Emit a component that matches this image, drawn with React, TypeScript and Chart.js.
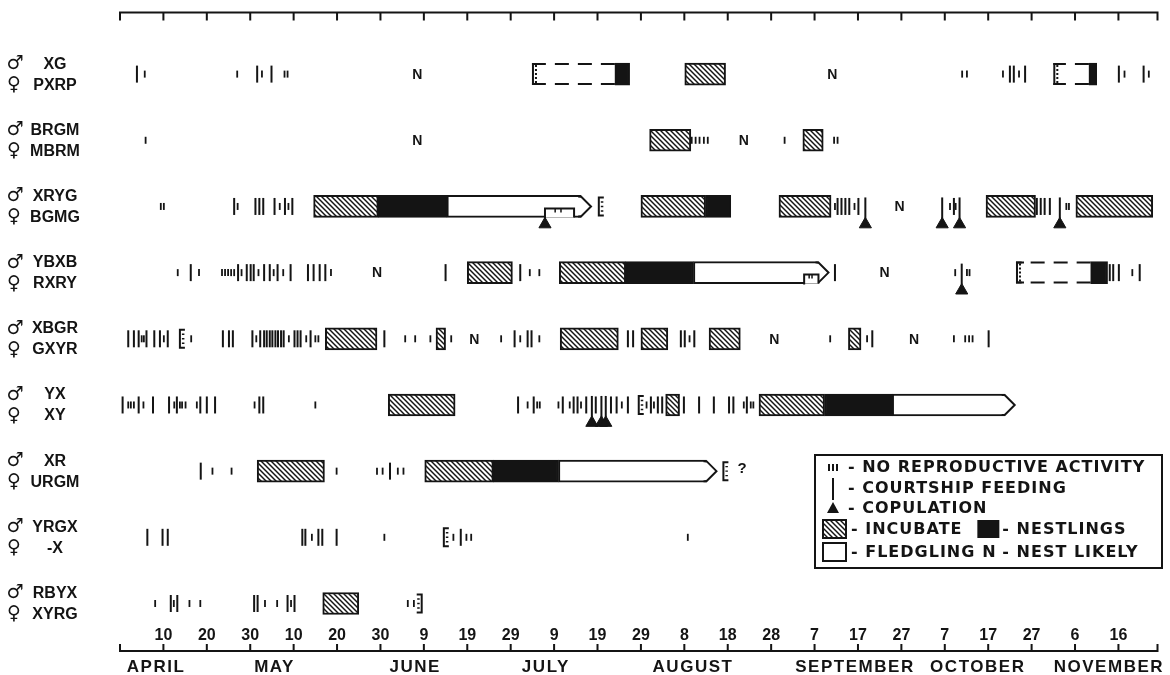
import React, { useEffect, useRef } from "react";
import { Chart, registerables } from "chart.js";

Chart.register(...registerables);

// ---- data (x = days counted from 31 March, so 10 = April 10) ----
const maleBands = ["XG", "BRGM", "XRYG", "YBXB", "XBGR", "YX", "XR", "YRGX", "RBYX"];
const femaleBands = ["PXRP", "MBRM", "BGMG", "RXRY", "GXYR", "XY", "URGM", "-X", "XYRG"];

const dayTicks = [10, 20, 30, 40, 50, 60, 70, 80, 90, 100, 110, 120, 130, 140, 150, 160, 170, 180, 190, 200, 210, 220, 230];
const dayTickLabels = ["10", "20", "30", "10", "20", "30", "9", "19", "29", "9", "19", "29", "8", "18", "28", "7", "17", "27", "7", "17", "27", "6", "16"];
const monthNames = ["APRIL", "MAY", "JUNE", "JULY", "AUGUST", "SEPTEMBER", "OCTOBER", "NOVEMBER"];
const monthCenters = [8.3, 35.6, 68.0, 98.1, 132.0, 169.3, 197.6, 227.8];

// [row, startDay, endDay]
const incubate: number[][] = [
  [0, 130.1, 139.5],
  [1, 122.0, 131.5], [1, 157.3, 162.0],
  [2, 44.6, 59.5], [2, 120.0, 134.9], [2, 151.8, 163.8], [2, 199.5, 210.9], [2, 220.2, 237.9],
  [3, 80.0, 90.4], [3, 101.2, 116.5],
  [4, 47.3, 59.2], [4, 72.8, 75.0], [4, 101.4, 114.8], [4, 120.0, 126.2], [4, 135.7, 142.9], [4, 167.8, 170.7],
  [5, 61.8, 77.2], [5, 125.7, 128.9], [5, 147.2, 162.3],
  [6, 31.6, 47.1], [6, 70.2, 86.0],
  [8, 46.7, 55.0],
];
const nestlings: number[][] = [
  [0, 114.0, 117.4], [0, 223.2, 225.0], [2, 59.5, 75.3], [2, 134.9, 140.7],
  [3, 116.5, 132.1], [3, 223.6, 227.5], [5, 162.3, 177.9], [6, 86.0, 101.0],
];
const fledgling: number[][] = [
  [2, 75.3, 106.2], [3, 132.1, 160.9], [5, 177.9, 203.8], [6, 101.0, 135.1],
];
const nestAttempt: number[][] = [
  [0, 94.9, 114.0], [0, 215.0, 223.2], [3, 206.4, 223.6],
];
const notches: number[][] = [
  [2, 97.9, 104.6], [3, 157.6, 160.9],
];

// per row: days
const courtshipDays: number[][] = [
  [3.9, 31.6, 34.9, 205.0, 205.9, 208.5, 230.1, 235.8],
  [],
  [26.3, 31.2, 32.1, 33.0, 35.6, 38.0, 39.7, 165.3, 166.2, 167.1, 168.0, 170.1, 192.1, 211.2, 212.1, 213.0, 214.2],
  [16.3, 27.2, 29.2, 30.1, 30.8, 33.2, 34.5, 36.3, 39.3, 43.3, 44.6, 46.0, 47.3, 75.0, 92.2, 164.7, 228.0, 228.8, 230.1, 234.9],
  [1.9, 3.2, 4.3, 6.1, 7.9, 9.2, 11.0, 23.7, 25.1, 26.0, 30.5, 32.3, 33.2, 33.8, 34.5, 35.1, 35.8, 36.4, 37.1, 37.7, 40.2, 40.9, 41.6, 43.9, 60.9, 90.9, 93.9, 94.8, 117.0, 118.2, 129.2, 130.1, 132.3, 173.3, 200.1],
  [0.6, 4.3, 7.6, 11.3, 13.1, 18.5, 20.0, 21.9, 32.1, 33.0, 91.7, 95.3, 102.0, 104.5, 105.4, 107.4, 109.6, 113.1, 114.4, 117.0, 122.3, 123.9, 124.9, 129.9, 133.4, 136.8, 140.3, 141.3, 144.4],
  [18.6, 62.2],
  [6.3, 9.8, 11.0, 42.0, 42.7, 45.7, 46.6, 49.9, 78.5],
  [11.7, 13.2, 30.9, 31.7, 38.6, 40.2],
];
const noReproDays: number[][] = [
  [5.7, 27.0, 32.7, 37.9, 38.6, 194.0, 195.1, 203.4, 207.1, 231.4, 237.0],
  [5.9, 131.7, 132.6, 133.5, 134.5, 135.4, 153.1, 164.5, 165.3],
  [9.4, 10.1, 27.1, 36.8, 38.8, 164.7, 169.2, 191.2, 192.5, 218.0, 218.6],
  [13.3, 18.2, 23.5, 24.2, 24.9, 25.6, 26.3, 28.0, 31.9, 35.4, 37.6, 48.6, 94.4, 96.6, 192.4, 195.1, 195.7, 233.2],
  [5.0, 5.5, 10.1, 16.4, 31.4, 38.9, 42.9, 45.0, 45.7, 65.7, 68.0, 71.5, 76.3, 87.8, 92.2, 96.6, 131.2, 163.6, 172.1, 192.1, 194.7, 195.6, 196.4],
  [1.9, 2.5, 3.2, 5.4, 12.5, 13.8, 14.3, 15.1, 17.7, 31.0, 45.0, 93.9, 96.1, 96.7, 101.0, 103.6, 106.2, 115.6, 121.3, 123.0, 143.7, 145.3, 145.9],
  [21.3, 25.7, 49.9, 59.2, 60.5, 64.0, 65.3],
  [44.2, 60.9, 76.8, 79.8, 80.9, 130.8],
  [8.1, 12.4, 16.0, 18.5, 33.4, 36.2, 39.4, 66.3, 67.7],
];
const copulationDays: number[][] = [
  [], [], [97.9, 171.7, 189.4, 193.4, 216.5], [193.9], [], [108.7, 110.9, 111.9], [], [], [],
];
const nestLikelyDays: number[][] = [
  [68.5, 164.1], [68.5, 143.7], [179.6], [59.2, 176.1], [81.6, 150.7, 182.9], [], [], [], [],
];
// [row, day, direction]  1 = "[" , -1 = "]"
const brackets: number[][] = [
  [2, 110.3, 1], [4, 13.8, 1], [5, 119.5, 1], [6, 139.0, 1], [7, 74.6, 1], [8, 69.5, -1],
];
const queryMarks: number[][] = [[6, 143.3]];

// ---- layout / style ----
const W = 1170;
const H = 675;
const X_MIN = 0;
const X_MAX = 239;
const Y_MIN = -0.931;
const Y_MAX = 8.718;
const PAD = { left: 120, right: 10, top: 8, bottom: 24 };
const ROW_PX = (H - PAD.top - PAD.bottom) / (Y_MAX - Y_MIN);
const BAR_PX = 22;
const INK = "#141414";
const FONT = '"Liberation Sans", Arial, sans-serif';
const LEG_FONT = '"DejaVu Sans", "Liberation Sans", sans-serif';

function flat(rows: number[][], offPx = 0) {
  const out: { x: number; y: number }[] = [];
  rows.forEach((days, r) => days.forEach((d) => out.push({ x: d, y: r + offPx / ROW_PX })));
  return out;
}

function makeHatch(): CanvasPattern | string {
  const s = 5;
  const c = document.createElement("canvas");
  c.width = s;
  c.height = s;
  const g = c.getContext("2d");
  if (!g) return "#888";
  g.fillStyle = "#fff";
  g.fillRect(0, 0, s, s);
  g.strokeStyle = INK;
  g.lineWidth = 1.45;
  g.beginPath();
  g.moveTo(-1, -1);
  g.lineTo(s + 1, s + 1);
  g.moveTo(-1, s - 1);
  g.lineTo(1, s + 1);
  g.moveTo(s - 1, -1);
  g.lineTo(s + 1, 1);
  g.stroke();
  return g.createPattern(c, "repeat") || "#888";
}

function fitSpacing(ctx: CanvasRenderingContext2D, text: string, target: number) {
  (ctx as any).letterSpacing = "0px";
  const w = ctx.measureText(text).width;
  return Math.max(0, (target - w) / Math.max(1, text.length - 1));
}

export default function App() {
  const ref = useRef<HTMLCanvasElement>(null);

  useEffect(() => {
    const canvas = ref.current;
    if (!canvas) return;
    const hatch = makeHatch();

    const decor = {
      id: "timelineDecor",
      afterDatasetsDraw(chart: any) {
        const ctx: CanvasRenderingContext2D = chart.ctx;
        const xs = chart.scales.x;
        const ys = chart.scales.y;
        const X = (d: number) => xs.getPixelForValue(d);
        const Y = (r: number) => ys.getPixelForValue(r);
        const half = BAR_PX / 2;
        const area = chart.chartArea;
        ctx.save();
        ctx.strokeStyle = INK;
        ctx.fillStyle = INK;
        ctx.lineCap = "butt";

        // fledgling arrow heads
        for (const [r, , e] of fledgling) {
          const xe = X(e);
          const yc = Y(r);
          const t = yc - half;
          const b = yc + half;
          const tip = xe + 10;
          ctx.fillStyle = "#fff";
          ctx.beginPath();
          ctx.moveTo(xe - 3, t + 2);
          ctx.lineTo(xe, t + 2);
          ctx.lineTo(tip - 2, yc);
          ctx.lineTo(xe, b - 2);
          ctx.lineTo(xe - 3, b - 2);
          ctx.closePath();
          ctx.fill();
          ctx.lineWidth = 2;
          ctx.beginPath();
          ctx.moveTo(xe - 3, t + 1);
          ctx.lineTo(xe, t + 1);
          ctx.lineTo(tip, yc);
          ctx.lineTo(xe, b - 1);
          ctx.lineTo(xe - 3, b - 1);
          ctx.stroke();
        }

        // notches in fledgling boxes
        for (const [r, s, e] of notches) {
          const xa = X(s);
          const xb = X(e);
          const yb = Y(r) + half;
          const yn = yb - 9;
          ctx.fillStyle = "#fff";
          ctx.fillRect(xa, yn - 1, xb - xa, 10);
          ctx.lineWidth = 2;
          ctx.beginPath();
          ctx.moveTo(xa, yb + 1);
          ctx.lineTo(xa, yn);
          ctx.lineTo(xb, yn);
          ctx.lineTo(xb, yb);
          ctx.stroke();
          ctx.lineWidth = 1.5;
          ctx.beginPath();
          for (const f of [0.35, 0.55]) {
            ctx.moveTo(xa + (xb - xa) * f, yn);
            ctx.lineTo(xa + (xb - xa) * f, yn + 4);
          }
          ctx.stroke();
        }

        // dashed (uncertain) nest boxes
        for (const [r, s, e] of nestAttempt) {
          const x1 = X(s);
          const x2 = X(e);
          const yc = Y(r);
          const t = yc - half + 1;
          const b = yc + half - 1;
          ctx.lineWidth = 2;
          ctx.setLineDash([14, 9]);
          ctx.beginPath();
          ctx.moveTo(x2, t);
          ctx.lineTo(x1, t);
          ctx.moveTo(x2, b);
          ctx.lineTo(x1, b);
          ctx.stroke();
          ctx.setLineDash([]);
          ctx.beginPath();
          ctx.moveTo(x1, t);
          ctx.lineTo(x1 + 8, t);
          ctx.moveTo(x1, b);
          ctx.lineTo(x1 + 8, b);
          ctx.moveTo(x1 + 1, t - 1);
          ctx.lineTo(x1 + 1, b + 1);
          ctx.stroke();
          ctx.setLineDash([2, 2]);
          ctx.beginPath();
          ctx.moveTo(x1 + 4, t + 1);
          ctx.lineTo(x1 + 4, b - 1);
          ctx.stroke();
          ctx.setLineDash([]);
        }

        // brackets
        ctx.fillStyle = INK;
        for (const [r, d, dir] of brackets) {
          const x = X(d);
          const yc = Y(r);
          ctx.lineWidth = 2;
          ctx.beginPath();
          ctx.moveTo(x + 5 * dir, yc - 9);
          ctx.lineTo(x, yc - 9);
          ctx.lineTo(x, yc + 9);
          ctx.lineTo(x + 5 * dir, yc + 9);
          ctx.stroke();
          ctx.lineWidth = 1.4;
          ctx.beginPath();
          for (const k of [-4.5, 0, 4.5]) {
            ctx.moveTo(x + 2 * dir, yc + k);
            ctx.lineTo(x + 4.5 * dir, yc + k);
          }
          ctx.stroke();
        }

        // N = nest likely, ? marks
        ctx.font = `bold 14px ${FONT}`;
        ctx.textAlign = "center";
        ctx.textBaseline = "middle";
        nestLikelyDays.forEach((days, r) => days.forEach((d) => ctx.fillText("N", X(d), Y(r) + 1)));
        ctx.font = `bold 15px ${FONT}`;
        for (const [r, d] of queryMarks) ctx.fillText("?", X(d), Y(r) - 2);

        // band labels
        for (let r = 0; r < maleBands.length; r++) {
          const yc = Y(r);
          ctx.font = `bold 19px "DejaVu Sans", sans-serif`;
          ctx.textAlign = "center";
          ctx.fillText("\u2642", 15, yc - 10);
          ctx.fillText("\u2640", 14, yc + 11);
          ctx.font = `bold 16px ${FONT}`;
          ctx.fillText(maleBands[r], 55, yc - 10);
          ctx.fillText(femaleBands[r], 55, yc + 11);
        }

        // axes
        const L = area.left;
        const R = area.right;
        const T = area.top;
        const B = area.bottom;
        ctx.lineWidth = 2;
        ctx.beginPath();
        ctx.moveTo(L, T + 8);
        ctx.lineTo(L, T);
        ctx.lineTo(R, T);
        ctx.lineTo(R, T + 8);
        for (const v of dayTicks) {
          ctx.moveTo(X(v), T);
          ctx.lineTo(X(v), T + 8);
        }
        ctx.moveTo(L, B - 7);
        ctx.lineTo(L, B);
        ctx.lineTo(R, B);
        ctx.lineTo(R, B - 7);
        for (const v of dayTicks) {
          ctx.moveTo(X(v), B);
          ctx.lineTo(X(v), B - 7);
        }
        ctx.stroke();
        ctx.font = `bold 16px ${FONT}`;
        ctx.textAlign = "center";
        ctx.textBaseline = "middle";
        dayTicks.forEach((v, i) => ctx.fillText(dayTickLabels[i], X(v), B - 15));
        ctx.font = `bold 17px ${FONT}`;
        const ms = fitSpacing(ctx, "SEPTEMBER", 118);
        (ctx as any).letterSpacing = `${ms}px`;
        monthNames.forEach((m, i) => ctx.fillText(m, X(monthCenters[i]), B + 16));
        (ctx as any).letterSpacing = "0px";

        // legend
        const lx = 815;
        const ly = 455;
        ctx.lineWidth = 2;
        ctx.strokeRect(lx, ly, 347, 113);
        ctx.font = `bold 16px ${LEG_FONT}`;
        ctx.textAlign = "left";
        const ls = Math.min(1, fitSpacing(ctx, "- NO REPRODUCTIVE ACTIVITY", 300));
        (ctx as any).letterSpacing = `${ls}px`;
        const ix = 833;
        ctx.beginPath();
        for (const dx of [-4, 0, 4]) {
          ctx.moveTo(ix + dx, 464);
          ctx.lineTo(ix + dx, 471);
        }
        ctx.moveTo(ix, 478);
        ctx.lineTo(ix, 500);
        ctx.stroke();
        ctx.beginPath();
        ctx.moveTo(ix, 502);
        ctx.lineTo(ix + 6, 513);
        ctx.lineTo(ix - 6, 513);
        ctx.closePath();
        ctx.fill();
        ctx.fillText("- NO REPRODUCTIVE ACTIVITY", 848, 468);
        ctx.fillText("- COURTSHIP FEEDING", 848, 489);
        ctx.fillText("- COPULATION", 848, 509);
        const col2 = 851 + Math.max(ctx.measureText("- INCUBATE").width, ctx.measureText("- FLEDGLING").width) + 2;
        ctx.fillStyle = hatch as any;
        ctx.fillRect(823, 520, 23, 18);
        ctx.fillStyle = INK;
        ctx.strokeRect(823, 520, 23, 18);
        ctx.fillRect(col2, 520, 22, 18);
        ctx.fillText("- INCUBATE", 851, 530);
        ctx.fillText("- NESTLINGS", col2 + 25, 530);
        ctx.fillStyle = "#fff";
        ctx.fillRect(823, 543, 23, 18);
        ctx.strokeRect(823, 543, 23, 18);
        ctx.fillStyle = INK;
        ctx.fillText("- FLEDGLING", 851, 553);
        ctx.fillText("N", col2 + 5, 553);
        ctx.fillText("- NEST LIKELY", col2 + 25, 553);
        (ctx as any).letterSpacing = "0px";
        ctx.restore();
      },
    };

    const barDs = (rows: number[][], fill: any, order: number) => ({
      type: "bar",
      indexAxis: "y",
      data: rows.map(([r, s, e]) => ({ y: r, x: [s, e] })),
      backgroundColor: fill,
      borderColor: INK,
      borderWidth: 2,
      borderSkipped: false,
      barThickness: BAR_PX,
      grouped: false,
      order,
      clip: false,
    });
    const pointDs = (data: any[], style: string, radius: number, rotation: number, order: number, width = 2) => ({
      type: "scatter",
      data,
      pointStyle: style,
      pointRadius: radius,
      pointRotation: rotation,
      pointBorderWidth: width,
      pointBorderColor: INK,
      pointBackgroundColor: INK,
      order,
      clip: false,
    });

    const chart = new Chart(canvas, {
      type: "bar",
      data: {
        datasets: [
          pointDs(flat(copulationDays, 1.5), "line", 10.5, 90, 9) as any,
          barDs(incubate, hatch, 5),
          barDs(nestlings, INK, 5),
          barDs(fledgling, "#ffffff", 5),
          pointDs(flat(courtshipDays), "line", 8.5, 90, 2) as any,
          pointDs(flat(noReproDays), "line", 3.5, 90, 2, 1.8) as any,
          pointDs(flat(copulationDays, 18), "triangle", 7, 0, 1, 1) as any,
        ],
      },
      options: {
        responsive: false,
        animation: false,
        events: [],
        layout: { padding: PAD },
        scales: {
          x: { type: "linear", min: X_MIN, max: X_MAX, offset: false, display: false },
          y: { type: "linear", min: Y_MIN, max: Y_MAX, offset: false, reverse: true, display: false },
        },
        plugins: { legend: { display: false }, tooltip: { enabled: false }, title: { display: false } },
      },
      plugins: [decor],
    } as any);

    return () => chart.destroy();
  }, []);

  return (
    <div style={{ position: "absolute", left: 0, top: 0, width: W, height: H, background: "#fff" }}>
      <canvas ref={ref} width={W} height={H} style={{ display: "block" }} />
    </div>
  );
}
